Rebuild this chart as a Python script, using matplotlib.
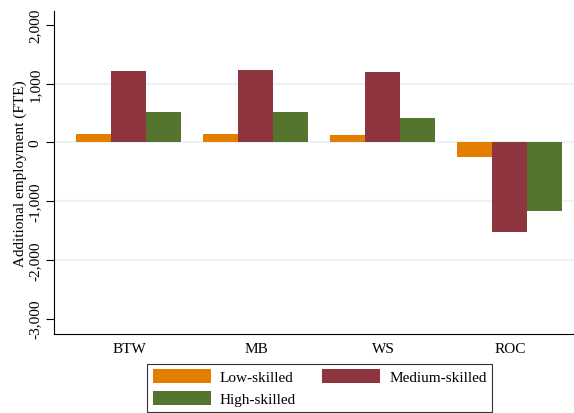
import numpy as np
import matplotlib
matplotlib.use('Agg')
import matplotlib.pyplot as plt

# 데이터 정의
regions = ['BTW', 'MB', 'WS', 'ROC']
low_skilled = [145, 145, 128, -247]
medium_skilled = [1218, 1235, 1200, -1525]
high_skilled = [514, 520, 418, -1167]

series_names = ['Low-skilled', 'Medium-skilled', 'High-skilled']
yticks = [-3000, -2000, -1000, 0, 1000, 2000]

matplotlib.rcParams['font.family'] = ['Liberation Serif', 'DejaVu Serif']
matplotlib.rcParams['font.size'] = 11

colors = ['#E37E00', '#8F3540', '#55752F']

fig = plt.figure(figsize=(5.74, 4.14), dpi=100)
ax = fig.add_axes([54 / 574, 1 - 335 / 414, 1 - 54 / 574, (335 - 12) / 414])

x = np.arange(len(regions))
w = 0.2756
bars = []
for i, vals in enumerate([low_skilled, medium_skilled, high_skilled]):
    b = ax.bar(x + (i - 1) * w, vals, w, color=colors[i], label=series_names[i], linewidth=0, zorder=3)
    bars.append(b)

# 격자선 (맨 위/맨 아래 눈금 제외)
for v in yticks[1:-1]:
    ax.axhline(v, color='#EAF2F3', linewidth=1.5, zorder=1)

ax.set_xlim(-0.59, 3.504)
ax.set_ylim(-3264, 2238)
ax.set_xticks(x)
ax.set_xticklabels(regions)
ax.tick_params(axis='x', length=0, pad=6)
ax.set_yticks(yticks)
ax.set_yticklabels(['{:,}'.format(v) for v in yticks], rotation=90, va='center')
ax.tick_params(axis='y', length=6, width=0.8, pad=3)
ax.set_ylabel('Additional employment (FTE)', labelpad=1)

for s in ['top', 'right']:
    ax.spines[s].set_visible(False)
for s in ['left', 'bottom']:
    ax.spines[s].set_linewidth(0.8)

# 범례는 행 우선 순서로: Low, Medium / High
order = [0, 2, 1]
leg = fig.legend([bars[i] for i in order], [series_names[i] for i in order],
                 loc='upper center', bbox_to_anchor=(319.5 / 574, 1 - 365 / 414), ncol=2,
                 frameon=True, fancybox=False, edgecolor='black', handlelength=3.8,
                 handleheight=1.0, handletextpad=0.6, columnspacing=1.7, labelspacing=0.45,
                 borderpad=0.35, borderaxespad=0)
leg.get_frame().set_linewidth(0.8)

plt.savefig('out.png', dpi=100)
